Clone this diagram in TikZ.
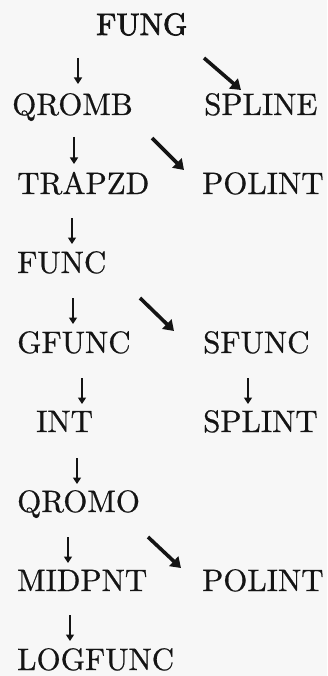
\documentclass[tikz,border=0pt]{standalone}
\usepackage{fontspec}
\setmainfont{lmroman10-regular}[Extension=.otf,FakeBold=0.6]
\newfontfamily\headfont{lmroman10-regular}[Extension=.otf,FakeBold=2.2]
\usetikzlibrary{arrows.meta}
\definecolor{ink}{HTML}{141414}
\definecolor{paper}{HTML}{F7F7F7}
\tikzset{
  routine/.style={anchor=base west, inner sep=0pt, text=ink,
    font=\fontsize{31}{36}\selectfont},
  mainroutine/.style={routine, font=\fontsize{31}{36}\selectfont\headfont},
  calldown/.style={draw=ink, line width=1.6pt,
    -{Triangle[length=6.5pt,width=8pt]}},
  callside/.style={draw=ink, line width=3.6pt,
    -{Triangle[length=10pt,width=13pt]}}
}
\begin{document}
\begin{tikzpicture}[x=1pt,y=-1pt]
  \fill[paper] (0,0) rectangle (327,676);
  \useasboundingbox (0,0) rectangle (327,676);

  % routines, left column
  \node[mainroutine] (fung)    at (96,35)  {FUNG};
  \node[routine]     (qromb)   at (12,115) {QROMB};
  \node[routine]     (trapzd)  at (17,194) {TRAPZD};
  \node[routine]     (func)    at (17,273) {FUNC};
  \node[routine]     (gfunc)   at (17,353) {GFUNC};
  \node[routine]     (int)     at (36,432) {INT};
  \node[routine]     (qromo)   at (17,512) {QROMO};
  \node[routine]     (midpnt)  at (17,591) {MIDPNT};
  \node[routine]     (logfunc) at (17,670) {LOGFUNC};

  % routines, right column
  \node[routine] (spline)  at (204,115) {SPLINE};
  \node[routine] (polinta) at (202,194) {POLINT};
  \node[routine] (sfunc)   at (203,353) {SFUNC};
  \node[routine] (splint)  at (203,432) {SPLINT};
  \node[routine] (polintb) at (202,591) {POLINT};

  % arrow end points
  \coordinate (fq-s) at (78,58);   \coordinate (fq-e) at (78,84);
  \coordinate (qt-s) at (74,137);  \coordinate (qt-e) at (74,164);
  \coordinate (tf-s) at (72,218);  \coordinate (tf-e) at (72,244);
  \coordinate (fg-s) at (73,298);  \coordinate (fg-e) at (73,324);
  \coordinate (gi-s) at (82,378);  \coordinate (gi-e) at (82,404);
  \coordinate (ss-s) at (248,378); \coordinate (ss-e) at (248,404);
  \coordinate (iq-s) at (77,458);  \coordinate (iq-e) at (77,484);
  \coordinate (qm-s) at (68,537);  \coordinate (qm-e) at (68,563);
  \coordinate (ml-s) at (70,615);  \coordinate (ml-e) at (70,641);

  \coordinate (fs-s) at (204,58);  \coordinate (fs-e) at (241,90);
  \coordinate (qp-s) at (152,138); \coordinate (qp-e) at (184,170);
  \coordinate (fsf-s) at (140,298); \coordinate (fsf-e) at (174,331);
  \coordinate (qpb-s) at (148,537); \coordinate (qpb-e) at (181,568);

  % calls
  \draw[calldown] (fq-s) -- (fq-e);
  \draw[calldown] (qt-s) -- (qt-e);
  \draw[calldown] (tf-s) -- (tf-e);
  \draw[calldown] (fg-s) -- (fg-e);
  \draw[calldown] (gi-s) -- (gi-e);
  \draw[calldown] (ss-s) -- (ss-e);
  \draw[calldown] (iq-s) -- (iq-e);
  \draw[calldown] (qm-s) -- (qm-e);
  \draw[calldown] (ml-s) -- (ml-e);

  \draw[callside] (fs-s) -- (fs-e);
  \draw[callside] (qp-s) -- (qp-e);
  \draw[callside] (fsf-s) -- (fsf-e);
  \draw[callside] (qpb-s) -- (qpb-e);
\end{tikzpicture}
\end{document}
